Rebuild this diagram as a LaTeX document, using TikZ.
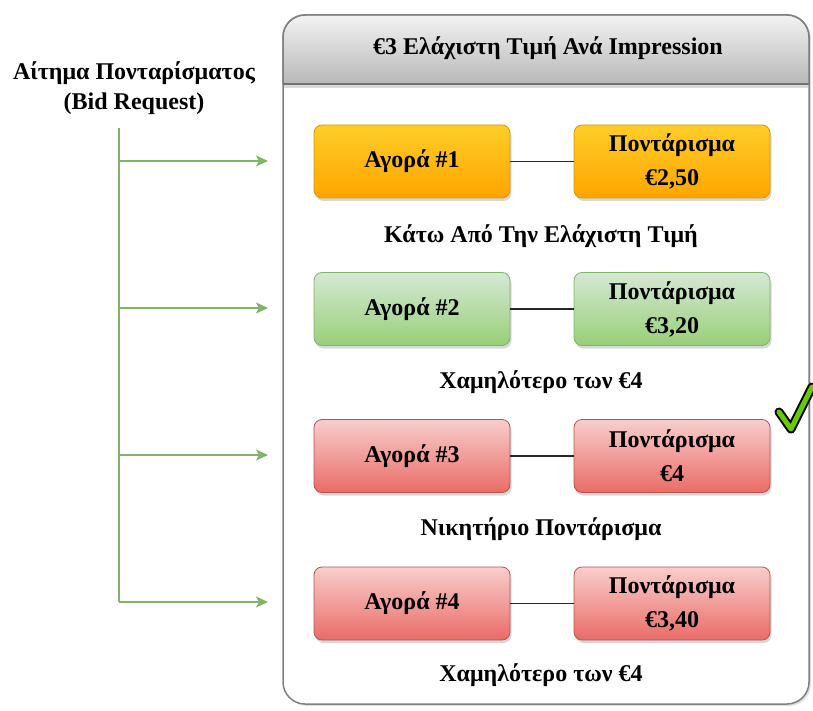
\documentclass[tikz,border=0pt]{standalone}
\usepackage{fontspec}
\setmainfont{Liberation Serif}
\usetikzlibrary{arrows.meta,shadows}
\definecolor{orTop}{HTML}{FFCD28}
\definecolor{orBot}{HTML}{FFA500}
\definecolor{orLine}{HTML}{D79B00}
\definecolor{grTop}{HTML}{D5E8D4}
\definecolor{grBot}{HTML}{97D077}
\definecolor{grLine}{HTML}{82B366}
\definecolor{rdTop}{HTML}{F8CECC}
\definecolor{rdBot}{HTML}{EA6B66}
\definecolor{rdLine}{HTML}{B85450}
\definecolor{hdTop}{HTML}{F2F2F2}
\definecolor{hdBot}{HTML}{B8B8B8}
\definecolor{frame}{HTML}{808080}
\definecolor{chk}{HTML}{66CC00}
\begin{document}
\begin{tikzpicture}[x=1pt,y=-1pt,
  txt/.style={font=\bfseries\fontsize{24}{34}\selectfont, align=center, inner sep=0pt},
  boxbase/.style={txt, rounded corners=8pt, minimum width=196pt, minimum height=73pt, line width=0.8pt,
     drop shadow={shadow xshift=1.5pt, shadow yshift=-3pt, opacity=0.3}},
  orbox/.style={boxbase, draw=orLine, top color=orTop, bottom color=orBot},
  grbox/.style={boxbase, draw=grLine, top color=grTop, bottom color=grBot},
  rdbox/.style={boxbase, draw=rdLine, top color=rdTop, bottom color=rdBot},
  link/.style={line width=1.6pt, draw=black!85},
  greenarrow/.style={draw=grLine, line width=1.6pt, -{Stealth[length=12pt,width=11pt,inset=3pt]}},
  greenline/.style={draw=grLine, line width=1.6pt}
]
\useasboundingbox (0,0) rectangle (813,711);

% container
\draw[frame, line width=1.5pt, fill=white, rounded corners=22pt,
  drop shadow={shadow xshift=2pt, shadow yshift=-2pt, opacity=0.25}]
  (283,15) rectangle (809,704);
\shade[top color=hdTop, bottom color=hdBot, rounded corners=22pt]
  (283.75,84) -- (283.75,15.75) -- (808.25,15.75) [sharp corners] -- (808.25,84) -- cycle;
\draw[frame, line width=1.5pt, rounded corners=22pt]
  (283,84) -- (283,15) -- (809,15) [sharp corners] -- (809,84);
\draw[frame!90!black, line width=1.5pt] (283,84) -- (809,84);
\fill[black!15] (284,85) rectangle (808,88);
\node[txt] (title) at (548,48) {€3 Ελάχιστη Τιμή Ανά Impression};

% left label
\node[txt, font=\bfseries\fontsize{24}{30}\selectfont] (req) at (134,88) {Αίτημα Πονταρίσματος\\(Bid Request)};

% boxes
\node[orbox] (m1) at (412,161.5) {Αγορά \#1};
\node[orbox] (b1) at (672,161.5) {Ποντάρισμα\\€2,50};
\node[grbox] (m2) at (412,309) {Αγορά \#2};
\node[grbox] (b2) at (672,309) {Ποντάρισμα\\€3,20};
\node[rdbox] (m3) at (412,456) {Αγορά \#3};
\node[rdbox] (b3) at (672,456) {Ποντάρισμα\\€4};
\node[rdbox] (m4) at (412,603.5) {Αγορά \#4};
\node[rdbox] (b4) at (672,603.5) {Ποντάρισμα\\€3,40};

\draw[link] (m1) -- (b1);
\draw[link] (m2) -- (b2);
\draw[link] (m3) -- (b3);
\draw[link] (m4) -- (b4);

% captions
\node[txt] (c1) at (541,236) {Κάτω Από Την Ελάχιστη Τιμή};
\node[txt] (c2) at (541,382) {Χαμηλότερο των €4};
\node[txt] (c3) at (541,529) {Νικητήριο Ποντάρισμα};
\node[txt] (c4) at (541,675) {Χαμηλότερο των €4};

% green request lines
\coordinate (vtop) at (119,128);
\coordinate (v1) at (119,161);
\coordinate (v2) at (119,308);
\coordinate (v3) at (119,455);
\coordinate (v4) at (119,602);
\coordinate (t1) at (268,161);
\coordinate (t2) at (268,308);
\coordinate (t3) at (268,455);
\coordinate (t4) at (268,602);
\draw[greenline] (vtop) -- (v4);
\draw[greenarrow] (v1) -- (t1);
\draw[greenarrow] (v2) -- (t2);
\draw[greenarrow] (v3) -- (t3);
\draw[greenarrow] (v4) -- (t4);

% check mark
\coordinate (k1) at (779,412);
\coordinate (k2) at (791,429);
\coordinate (k3) at (812,387);
\draw[black, line width=9pt, line cap=round, line join=round] (k1) -- (k2) -- (k3);
\draw[chk, line width=5pt, line cap=round, line join=round] (k1) -- (k2) -- (k3);
\end{tikzpicture}
\end{document}
